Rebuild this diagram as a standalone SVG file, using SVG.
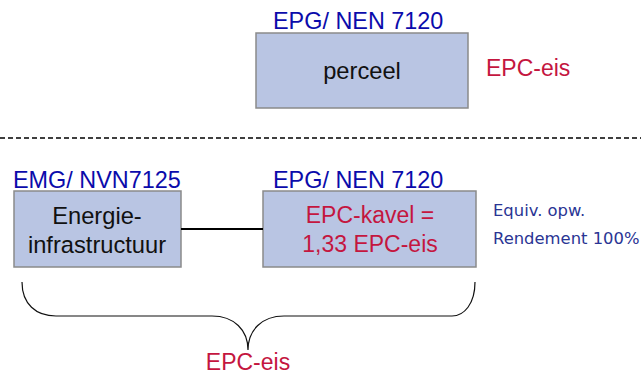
<svg xmlns="http://www.w3.org/2000/svg" width="641" height="374" viewBox="0 0 641 374">
  <style>
    text { font-family: "Liberation Sans", Arial, sans-serif; }
    .box { fill: #b9c5e3; stroke: #8a8a8a; stroke-width: 1.5; }
    .norm { fill: #0b0bab; font-size: 23.4px; }
    .dark { fill: #111; font-size: 23.7px; text-anchor: middle; }
    .red { fill: #c4163f; font-size: 23px; }
    .note { fill: #2a3594; font-size: 16.4px; font-family: "DejaVu Sans", Verdana, sans-serif; }
    .link { stroke: #000; stroke-width: 2; fill: none; }
  </style>

  <!-- upper part: plot -->
  <g id="perceel">
    <text class="norm" x="273" y="29">EPG/ NEN 7120</text>
    <rect class="box" x="256" y="33" width="212" height="75"/>
    <text class="dark" x="362" y="79">perceel</text>
  </g>
  <text class="red" x="486" y="76">EPC-eis</text>

  <!-- separator -->
  <line x1="0" y1="138" x2="641" y2="138" stroke="#000" stroke-width="1.5" stroke-dasharray="5,3"/>

  <!-- lower part -->
  <g id="energie">
    <text class="norm" x="13" y="188">EMG/ NVN7125</text>
    <rect class="box" x="14" y="191" width="167" height="76"/>
    <text class="dark" x="97" y="224">Energie-</text>
    <text class="dark" x="97" y="253">infrastructuur</text>
  </g>

  <g id="kavel">
    <text class="norm" x="273" y="188">EPG/ NEN 7120</text>
    <rect class="box" x="263" y="191" width="213" height="76"/>
    <text class="red" x="370" y="223" text-anchor="middle">EPC-kavel =</text>
    <text class="red" x="370" y="252" text-anchor="middle">1,33 EPC-eis</text>
  </g>

  <g id="note">
    <text class="note" x="493" y="216">Equiv. opw.</text>
    <text class="note" x="493" y="244">Rendement 100%</text>
  </g>

  <g id="connectors">
    <line class="link" x1="181" y1="229" x2="263" y2="229"/>
    <path d="M22,282 C22,304 36,316 56,316 L212,316 C234,316 248,330 248,350 C248,330 262,316 284,316 L452,316 C464,316 475,304 475,282" fill="none" stroke="#111" stroke-width="1.2"/>
  </g>
  <text class="red" x="248" y="370" text-anchor="middle">EPC-eis</text>
</svg>
